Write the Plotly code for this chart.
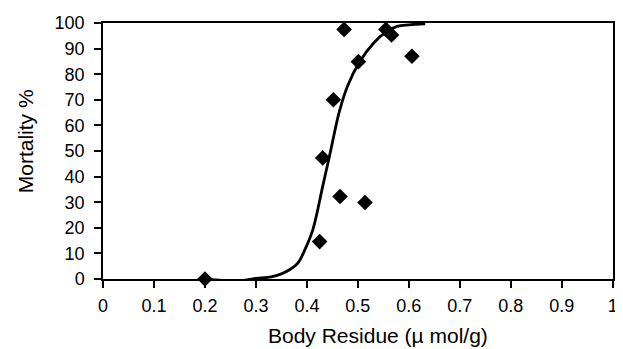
import plotly.graph_objects as go

obs_x = [0.20, 0.425, 0.431, 0.452, 0.465, 0.473, 0.501, 0.514, 0.555, 0.566, 0.606]
obs_y = [0.0, 14.6, 47.3, 70.0, 32.2, 97.5, 84.9, 29.9, 97.5, 95.3, 87.0]

fit_x = [0.20, 0.22, 0.25, 0.28, 0.30, 0.33, 0.35, 0.365, 0.3825, 0.395, 0.4117, 0.431, 0.447,
         0.463, 0.4796, 0.502, 0.531, 0.557, 0.577, 0.60, 0.632]
fit_y = [0.0, -0.4, -0.6, -0.4, 0.2, 0.8, 2.0, 3.5, 6.3, 11.0, 19.3, 36.2, 50.5,
         64.9, 75.3, 84.4, 92.2, 96.7, 98.7, 99.3, 99.7]

x_ticks = [0, 0.1, 0.2, 0.3, 0.4, 0.5, 0.6, 0.7, 0.8, 0.9, 1]
x_labels = ["0", "0.1", "0.2", "0.3", "0.4", "0.5", "0.6", "0.7", "0.8", "0.9", "1"]
y_ticks = [0, 10, 20, 30, 40, 50, 60, 70, 80, 90, 100]
x_title = "Body Residue (µ mol/g)"
y_title = "Mortality %"

fig = go.Figure()
fig.add_trace(go.Scatter(x=fit_x, y=fit_y, mode="lines",
                         line=dict(color="black", width=2.8, shape="spline"),
                         showlegend=False, hoverinfo="skip"))
fig.add_trace(go.Scatter(x=obs_x, y=obs_y, mode="markers",
                         marker=dict(symbol="diamond", size=12, color="black"),
                         showlegend=False, cliponaxis=False))

font = dict(family="Liberation Sans, Arial, sans-serif", size=18, color="black")
fig.update_layout(
    width=615, height=341,
    margin=dict(l=95, r=5, t=15, b=70),
    paper_bgcolor="white", plot_bgcolor="white",
    font=font,
    xaxis=dict(range=[0, 1.0005], tickvals=x_ticks, ticktext=x_labels,
               ticks="outside", ticklen=7, tickwidth=1.5, tickcolor="black",
               ticklabeloverflow="allow", ticklabelstandoff=3,
               showline=True, linecolor="black", linewidth=1.5, mirror=True,
               showgrid=False, zeroline=False),
    yaxis=dict(range=[0, 100], tickvals=y_ticks,
               ticks="outside", ticklen=7, tickwidth=1.5, tickcolor="black",
               ticklabelstandoff=6,
               showline=True, linecolor="black", linewidth=1.5, mirror=True,
               showgrid=False, zeroline=False),
    annotations=[
        dict(text=x_title, xref="paper", yref="paper", x=0.54, y=-0.22,
             xanchor="center", yanchor="middle", showarrow=False,
             font=dict(size=21)),
        dict(text=y_title, xref="paper", yref="paper", x=-0.153, y=0.538,
             xanchor="center", yanchor="middle", showarrow=False, textangle=-90,
             font=dict(size=21)),
    ],
)
fig.write_html("out.html")
